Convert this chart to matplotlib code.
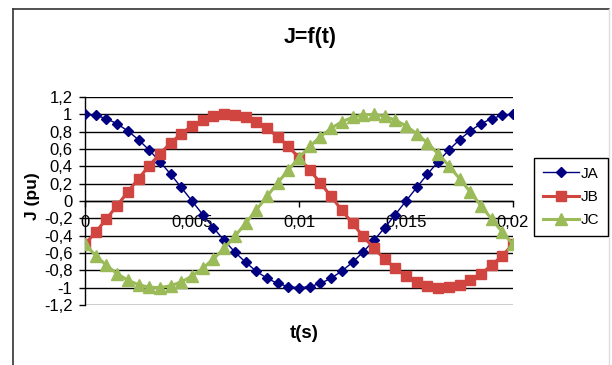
import matplotlib
matplotlib.use('Agg')
import matplotlib.pyplot as plt
from matplotlib.ticker import FuncFormatter, MultipleLocator
from matplotlib.lines import Line2D

plt.rcParams['font.family'] = ['Liberation Sans', 'DejaVu Sans']

# time samples (s)
t = [0.0, 0.0005, 0.001, 0.0015, 0.002, 0.0025, 0.003, 0.0035, 0.004, 0.0045,
     0.005, 0.0055, 0.006, 0.0065, 0.007, 0.0075, 0.008, 0.0085, 0.009, 0.0095,
     0.01, 0.0105, 0.011, 0.0115, 0.012, 0.0125, 0.013, 0.0135, 0.014, 0.0145,
     0.015, 0.0155, 0.016, 0.0165, 0.017, 0.0175, 0.018, 0.0185, 0.019, 0.0195,
     0.02]

# phase currents in per unit
JA = [1.000, 0.988, 0.951, 0.891, 0.809, 0.707, 0.588, 0.454, 0.309, 0.156,
      0.000, -0.156, -0.309, -0.454, -0.588, -0.707, -0.809, -0.891, -0.951, -0.988,
      -1.000, -0.988, -0.951, -0.891, -0.809, -0.707, -0.588, -0.454, -0.309, -0.156,
      0.000, 0.156, 0.309, 0.454, 0.588, 0.707, 0.809, 0.891, 0.951, 0.988,
      1.000]
JB = [-0.500, -0.358, -0.208, -0.052, 0.105, 0.259, 0.407, 0.545, 0.669, 0.777,
      0.866, 0.934, 0.978, 0.999, 0.995, 0.966, 0.914, 0.839, 0.743, 0.629,
      0.500, 0.358, 0.208, 0.052, -0.105, -0.259, -0.407, -0.545, -0.669, -0.777,
      -0.866, -0.934, -0.978, -0.999, -0.995, -0.966, -0.914, -0.839, -0.743, -0.629,
      -0.500]
JC = [-0.500, -0.629, -0.743, -0.839, -0.914, -0.966, -0.995, -0.999, -0.978, -0.934,
      -0.866, -0.777, -0.669, -0.545, -0.407, -0.259, -0.105, 0.052, 0.208, 0.358,
      0.500, 0.629, 0.743, 0.839, 0.914, 0.966, 0.995, 0.999, 0.978, 0.934,
      0.866, 0.777, 0.669, 0.545, 0.407, 0.259, 0.105, -0.052, -0.208, -0.358,
      -0.500]

fig = plt.figure(figsize=(6.12, 3.65), dpi=100)
ax = fig.add_axes([85/612, 1 - 305/365, 428/612, 208/365])

ax.plot(t, JA, color='#000080', lw=1.0, marker='D', ms=5, label='JA', zorder=3)
ax.plot(t, JB, color='#D0453F', lw=2.2, marker='s', ms=7.8, label='JB', zorder=3)
ax.plot(t, JC, color='#9BBB59', lw=2.2, marker='^', ms=8.2, label='JC', zorder=3)

ax.set_xlim(0, 0.02)
ax.set_ylim(-1.2, 1.2)
ax.xaxis.set_major_locator(MultipleLocator(0.005))
ax.yaxis.set_major_locator(MultipleLocator(0.2))

comma = FuncFormatter(lambda v, p: ('%g' % round(v, 4)).replace('.', ','))
ax.xaxis.set_major_formatter(comma)
ax.yaxis.set_major_formatter(comma)

ax.grid(axis='y', color='black', lw=1.0, zorder=1)
ax.spines['top'].set_visible(False)
ax.spines['right'].set_visible(False)
ax.spines['bottom'].set_position(('data', 0))
ax.spines['bottom'].set_linewidth(1.0)
ax.spines['left'].set_linewidth(1.0)
ax.tick_params(axis='both', direction='out', length=4, width=1,
               labelsize=12, colors='black')
ax.tick_params(axis='x', pad=6)
ax.tick_params(axis='y', pad=5)

fig.text(310/612, 1 - 38/365, 'J=f(t)', ha='center', va='center',
         fontsize=15.5, fontweight='bold')
fig.text(304/612, 1 - 333/365, 't(s)', ha='center', va='center',
         fontsize=13.5, fontweight='bold')
fig.text(32/612, 1 - 196/365, 'J (pu)', ha='center', va='center',
         rotation=90, fontsize=12.5, fontweight='bold')

leg = fig.legend(loc='center', bbox_to_anchor=(571/612, 1 - 197/365),
                 fontsize=11, frameon=True, fancybox=False, framealpha=1,
                 edgecolor='black', handlelength=2.4, handletextpad=0.1,
                 labelspacing=0.6, borderpad=0.55, borderaxespad=0)
leg.get_frame().set_linewidth(1.0)

# outer chart border
fig.add_artist(Line2D([13/612, 13/612], [0, 1 - 9/365], color='#333333', lw=1.2))
fig.add_artist(Line2D([13/612, 609/612], [1 - 9/365, 1 - 9/365], color='#333333', lw=1.2))
fig.add_artist(Line2D([609/612, 609/612], [0, 1 - 9/365], color='#DDDDDD', lw=1.0))

fig.savefig('out.png', dpi=100)
